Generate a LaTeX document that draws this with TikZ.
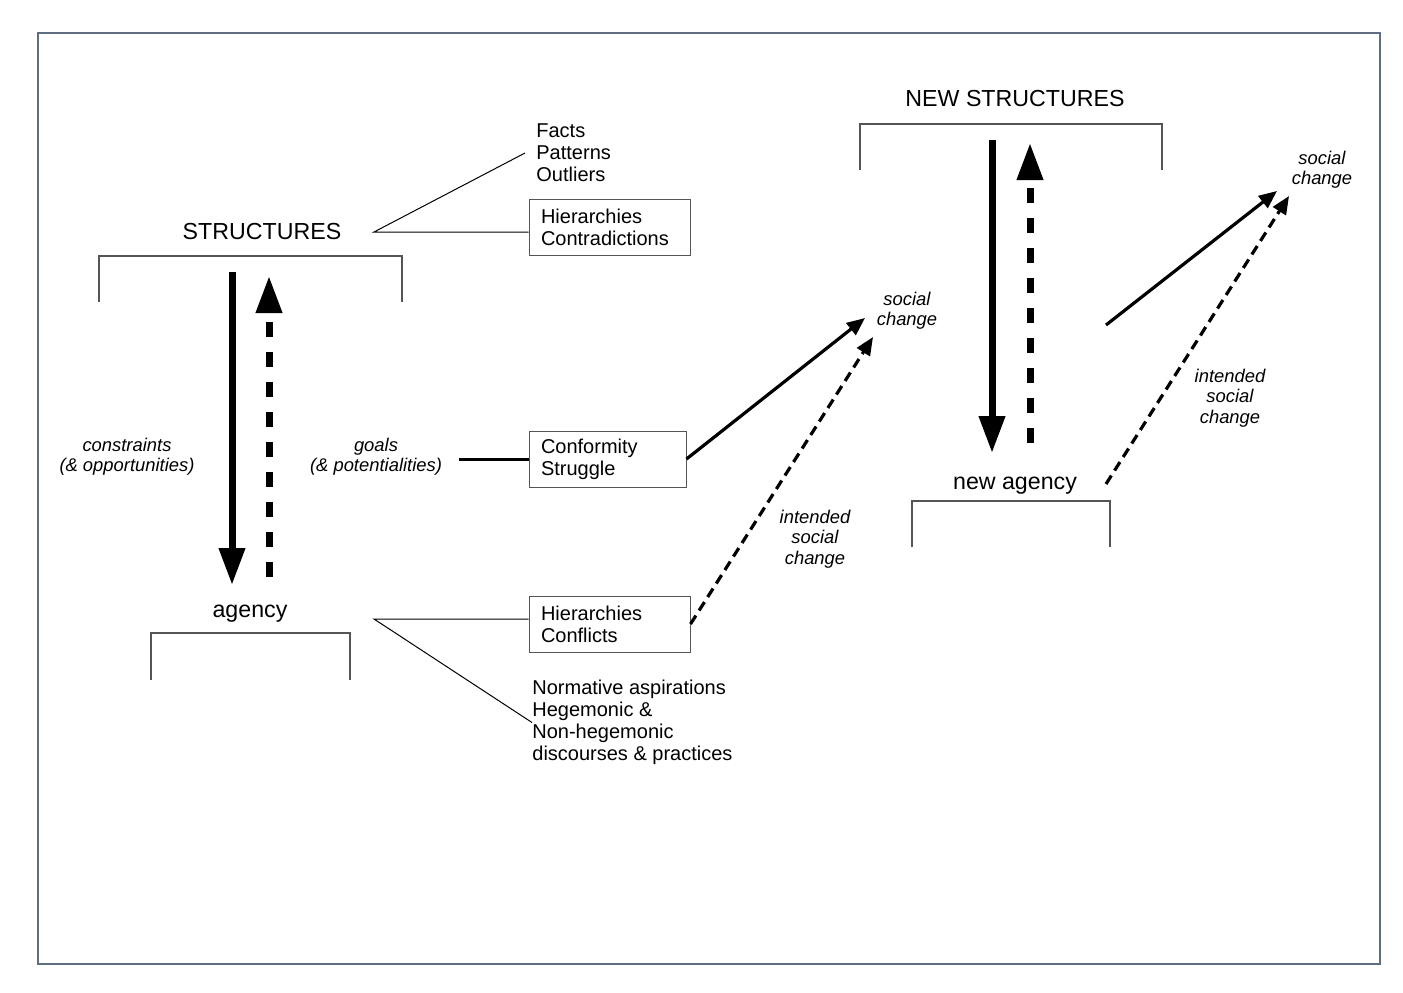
\documentclass[tikz,border=0pt]{standalone}
\usepackage{fontspec}
\setmainfont{Liberation Sans}
\usetikzlibrary{arrows.meta}
\definecolor{framegray}{RGB}{95,110,130}
\definecolor{linegray}{RGB}{85,85,85}

\tikzset{
  bigtext/.style={font=\fontsize{11.6}{13}\selectfont, inner sep=0pt},
  plaintext/.style={font=\fontsize{10}{11}\selectfont, align=left, inner sep=0pt},
  note/.style={font=\fontsize{9.2}{10.2}\selectfont\itshape, align=center, inner sep=0pt},
  tbox/.style={draw=linegray, line width=0.5pt, font=\fontsize{10}{11}\selectfont,
    align=left, inner xsep=6pt, minimum height=28pt, text width=#1},
  bracket/.style={draw=linegray, line width=0.6pt},
  thinline/.style={line width=0.5pt},
  bigarrow/.style={line width=3.5pt, -{Triangle[length=18.5pt,width=12.5pt]}},
  bigdash/.style={bigarrow, dash pattern=on 7.5pt off 7.5pt},
  smallarrow/.style={line width=1.6pt, -{Triangle[length=9pt,width=7.5pt]}},
  smalldash/.style={smallarrow, dash pattern=on 5pt off 3pt},
}

\begin{document}
\begin{tikzpicture}[x=0.5pt,y=-0.5pt]
  \useasboundingbox (0,0) rectangle (1403,992);
  \draw[framegray, line width=0.8pt] (38,33) rectangle (1380,964);

%titles and brackets:
  \node[bigtext] (struct) at (262,232) {STRUCTURES};
  \node[bigtext] (agency) at (250,614) {agency};
  \node[bigtext] (newstruct) at (1015,99) {NEW STRUCTURES};
  \node[bigtext] (newagency) at (1015,486) {new agency};
  \draw[bracket] (99,302) |- (402,256) -- (402,302);
  \draw[bracket] (151,680) |- (350,633) -- (350,680);
  \draw[bracket] (860,170) |- (1162,124) -- (1162,170);
  \draw[bracket] (912,547) |- (1110,501) -- (1110,547);

%lists and boxes:
  \node[plaintext, anchor=west, inner xsep=5.5pt] (facts) at (525,153) {Facts\\Patterns\\Outliers};
  \node[tbox=68.5pt] (hierA) at (609.5,227) {Hierarchies\\Contradictions};
  \node[tbox=66.5pt] (conf) at (607.5,459) {Conformity\\Struggle};
  \node[tbox=68.5pt] (hierB) at (609.5,624) {Hierarchies\\Conflicts};
  \node[plaintext, anchor=west] (norm) at (532,722.5)
    {Normative aspirations\\Hegemonic \&\\Non-hegemonic\\discourses \& practices};

%italic notes:
  \node[note] (constr) at (127,457) {constraints\\(\& opportunities)};
  \node[note] (goals) at (376,457) {goals\\(\& potentialities)};
  \node[note] (sc1) at (907,311) {social\\change};
  \node[note] (isc1) at (815,539) {intended\\social\\change};
  \node[note] (sc2) at (1322,170) {social\\change};
  \node[note] (isc2) at (1230,398) {intended\\social\\change};

  \coordinate (structJ) at (374,232);
  \coordinate (agencyJ) at (374,619);
  \coordinate (sdTop) at (232,272);   \coordinate (sdBot) at (232,585);
  \coordinate (suBot) at (269,577);   \coordinate (suTop) at (269,276);
  \coordinate (ndTop) at (992,140);   \coordinate (ndBot) at (992,453);
  \coordinate (nuBot) at (1030,443);  \coordinate (nuTop) at (1030,143);
  \coordinate (sc1tip) at (865,318);
  \coordinate (isc1tip) at (873,337);
  \coordinate (sc2tail) at (1106,325);
  \coordinate (sc2tip) at (1277,191);
  \coordinate (isc2tail) at (1106,484);
  \coordinate (isc2tip) at (1289,196);

%connectors:
  \draw[thinline] (facts.west) -- (structJ) -- (structJ -| hierA.west);
  \draw[thinline] (norm.west) -- (agencyJ) -- (agencyJ -| hierB.west);
  \draw[line width=1.5pt] (conf.west) -- ++(-70,0);

  \draw[bigarrow] (sdTop) -- (sdBot);
  \draw[bigdash] (suBot) -- (suTop);
  \draw[bigarrow] (ndTop) -- (ndBot);
  \draw[bigdash] (nuBot) -- (nuTop);

  \draw[smallarrow] (conf.east) -- (sc1tip);
  \draw[smalldash] (hierB.east) -- (isc1tip);
  \draw[smallarrow] (sc2tail) -- (sc2tip);
  \draw[smalldash] (isc2tail) -- (isc2tip);

\end{tikzpicture}
\end{document}
